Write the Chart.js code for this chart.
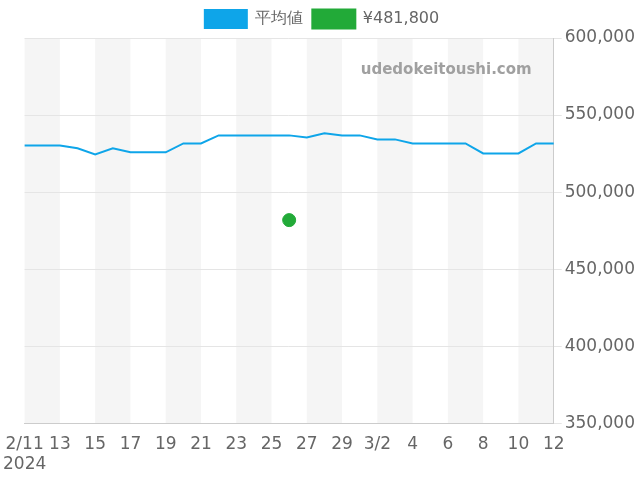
<!DOCTYPE html>
<html><head><meta charset="utf-8">
<script src="https://cdn.jsdelivr.net/npm/chart.js@4"></script>
<style>body{margin:0}#w{width:640px;height:480px}</style></head>
<body><div id="w"><canvas id="c"></canvas></div>
<script>
Chart.defaults.font.family='"DejaVu Sans"';
const dates=["2/11","12","13","14","15","16","17","18","19","20","21","22","23","24","25","26","27","28","29","3/1","3/2","3","4","5","6","7","8","9","10","11","12"];
const avgPrice=[530300,530300,530300,528400,524500,528400,525800,525800,525800,531600,531600,536800,536800,536800,536800,536800,535500,538100,536800,536800,534200,534200,531600,531600,531600,531600,525100,525100,525100,531600,531600];
const salePrice=dates.map((d,i)=>i===15?481800:null);
const yTicks=[350000,400000,450000,500000,550000,600000];
const bands={id:'bands',beforeDraw(ch){const {ctx,chartArea:a,scales:{x}}=ch;ctx.save();ctx.fillStyle='#f5f5f5';
for(let i=0;i<dates.length-1;i+=4){const l=x.getPixelForValue(i),r=x.getPixelForValue(Math.min(i+2,dates.length-1));ctx.fillRect(l,a.top,r-l,a.bottom-a.top);}
ctx.fillStyle='#a0a0a0';ctx.font='bold 15px "DejaVu Sans"';ctx.textAlign='right';ctx.fillText('udedokeitoushi.com',a.right-22,a.top+32);ctx.restore();}};
new Chart(document.getElementById('c'),{type:'line',
data:{labels:dates,datasets:[
{label:'平均値',data:avgPrice,borderColor:'#0ea5e9',backgroundColor:'#0ea5e9',borderWidth:2,pointRadius:0,tension:0},
{label:'¥481,800',data:salePrice,borderColor:'#22aa38',backgroundColor:'#22aa38',pointRadius:6.5,showLine:false}]},
options:{animation:false,responsive:true,maintainAspectRatio:false,layout:{padding:{left:6,right:2,bottom:2}},
plugins:{legend:{labels:{boxWidth:42,boxHeight:18,font:{size:16},color:'#666'}},tooltip:{enabled:false}},
scales:{x:{grid:{display:false},border:{color:'#ccc'},ticks:{autoSkip:false,maxRotation:0,font:{size:17},color:'#666',
callback:(v,i)=>i%2?null:(i===0?['2/11','2024']:dates[i])}},
y:{position:'right',min:350000,max:600000,afterBuildTicks:s=>{s.ticks=yTicks.map(v=>({value:v}))},
grid:{color:'#e5e5e5'},border:{color:'#ccc'},ticks:{font:{size:17},color:'#666',callback:v=>v.toLocaleString('en-US')}}}},
plugins:[bands]});
</script></body></html>
